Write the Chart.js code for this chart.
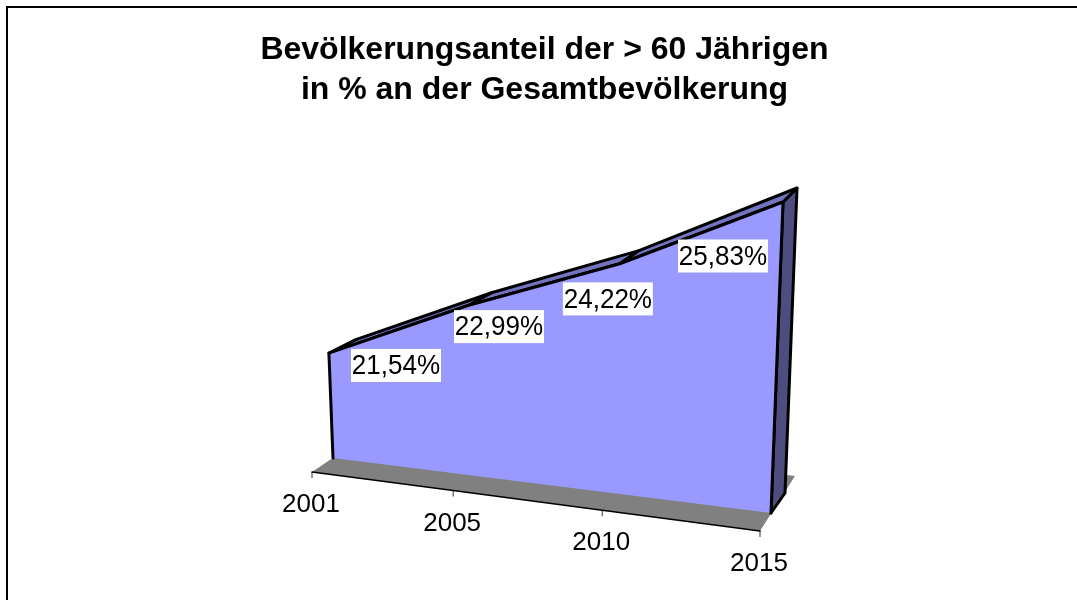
<!DOCTYPE html>
<html>
<head>
<meta charset="utf-8">
<script src="https://cdn.jsdelivr.net/npm/chart.js@4"></script>
<style>
	html, body { margin: 0; padding: 0; background: #fff; overflow: hidden; }
	#frame { position: absolute; left: 6px; top: 6px; width: 1200px; height: 800px; border: 2px solid #000; }
	canvas { position: absolute; left: 0; top: 0; }
</style>
</head>
<body>
<div id="frame"></div>
<canvas id="chart" width="1077" height="600"></canvas>
<script>
const years = ['2001', '2005', '2010', '2015'];
const shares = [21.54, 22.99, 24.22, 25.83];
const axisMin = 19;
const axisMax = 25.83;
const titleLines = ['Bevölkerungsanteil der > 60 Jährigen', 'in % an der Gesamtbevölkerung'];

// corners of each depth plane on the page, the picture is a perspective view
const planes = {
	front: { b0: [333, 458], b1: [771, 513], t0: [322, 176], t1: [783, 202] },
	back: { b0: [358, 440], b1: [785, 493], t0: [352, 170], t1: [797, 188] },
	floorFront: { b0: [312, 472], b1: [760, 531], t0: [312, 472], t1: [760, 531] },
	floorBack: { b0: [380, 426], b1: [795, 476], t0: [380, 426], t1: [795, 476] },
	label: { b0: [396, 477], b1: [723, 556], t0: [396, 177], t1: [723, 256] }
};
const perspective = 1.087;

function lerp(a, b, t) {
	return [a[0] + (b[0] - a[0]) * t, a[1] + (b[1] - a[1]) * t];
}

function project(chart, px, py, planeName) {
	const xs = chart.scales.x;
	const ys = chart.scales.y;
	const u = (px - xs.left) / xs.width;
	const w = (ys.bottom - py) / ys.height;
	const s = u / (u + (1 - u) * perspective);
	const plane = planes[planeName];
	return lerp(lerp(plane.b0, plane.b1, s), lerp(plane.t0, plane.t1, s), w);
}

const projection = {
	id: 'projection',
	afterDatasetsUpdate(chart) {
		chart.data.datasets.forEach(function(ds, i) {
			chart.getDatasetMeta(i).data.forEach(function(pt, k) {
				const p = project(chart, pt.x, pt.y, ds.data[k].z);
				pt.x = p[0];
				pt.y = p[1];
			});
		});
	},
	beforeDatasetsDraw(chart) {
		const ctx = chart.ctx;
		const xs = chart.scales.x;
		const ys = chart.scales.y;
		ctx.save();
		ctx.font = '26px "Liberation Sans"';
		ctx.textAlign = 'center';
		ctx.textBaseline = 'middle';
		xs.ticks.forEach(function(tick, i) {
			const p = project(chart, xs.getPixelForTick(i), ys.bottom, 'floorFront');
			ctx.strokeStyle = '#333';
			ctx.lineWidth = 1;
			ctx.beginPath();
			ctx.moveTo(p[0], p[1]);
			ctx.lineTo(p[0], p[1] + 6);
			ctx.stroke();
			ctx.fillStyle = '#000';
			ctx.fillText(tick.label, p[0] - 1, p[1] + 33);
		});
		ctx.restore();
	},
	afterDatasetsDraw(chart) {
		const ctx = chart.ctx;
		const xs = chart.scales.x;
		const ys = chart.scales.y;
		ctx.save();
		ctx.font = '28px "Liberation Sans"';
		ctx.textAlign = 'center';
		ctx.textBaseline = 'middle';
		shares.forEach(function(value, i) {
			const p = project(chart, xs.getPixelForValue(i), ys.getPixelForValue(value), 'label');
			const text = value.toFixed(2).replace('.', ',') + '%';
			ctx.fillStyle = '#fff';
			ctx.fillRect(p[0] - 45, p[1] - 16.5, 90, 33);
			ctx.fillStyle = '#000';
			// the labels in the picture are a bit narrower than the font
			ctx.save();
			ctx.translate(p[0], p[1] + 1);
			ctx.scale(0.93, 1);
			ctx.fillText(text, 0, 0);
			ctx.restore();
		});
		ctx.restore();
	}
};

function pt(i, y, z) {
	return { x: years[i], y: y, z: z };
}

const last = years.length - 1;
const datasets = [];

function face(data, fillColor, lineColor, lineWidth) {
	datasets.push({
		data: data,
		fill: fillColor ? 'shape' : false,
		backgroundColor: fillColor || 'transparent',
		borderColor: lineColor || 'transparent',
		borderWidth: lineWidth || 0,
		borderJoinStyle: 'round',
		borderCapStyle: 'round',
		pointRadius: 0,
		tension: 0,
		clip: false,
		order: -datasets.length
	});
}

// floor
face(
	years.map((y, i) => pt(i, axisMin, 'floorFront'))
		.concat(years.map((y, i) => pt(last - i, axisMin, 'floorBack'))),
	'#808080'
);
face(years.map((y, i) => pt(i, axisMin, 'floorFront')), null, '#000', 1.5);

// right side of the area
face([
	pt(last, axisMin, 'front'), pt(last, shares[last], 'front'), pt(last, shares[last], 'back'),
	pt(last, axisMin, 'back'), pt(last, axisMin, 'front')
], '#4d4d80', '#000', 3);

// top strips between the two edges
for (let i = 0; i < last; i++) {
	face([
		pt(i, shares[i], 'front'), pt(i + 1, shares[i + 1], 'front'), pt(i + 1, shares[i + 1], 'back'),
		pt(i, shares[i], 'back'), pt(i, shares[i], 'front')
	], '#7373bf', '#000', 3);
}

// front of the area, the outline leaves out the bottom edge
const frontEdge = shares.map((v, i) => pt(i, v, 'front'));
face([pt(0, axisMin, 'front')].concat(frontEdge, [pt(last, axisMin, 'front')]), '#9999ff');
face([pt(0, axisMin, 'front')].concat(frontEdge, [pt(last, axisMin, 'front')]), null, '#000', 3);

new Chart(document.getElementById('chart'), {
	type: 'line',
	data: { labels: years, datasets: datasets },
	options: {
		responsive: false,
		animation: false,
		events: [],
		layout: { padding: { left: 12, top: 30 } },
		scales: {
			x: { type: 'category', display: false },
			y: { type: 'linear', display: false, min: axisMin, max: axisMax }
		},
		plugins: {
			legend: { display: false },
			tooltip: { enabled: false },
			title: {
				display: true,
				text: titleLines,
				color: '#000',
				font: { family: '"Liberation Sans"', size: 32, weight: 'bold', lineHeight: 1.25 },
				padding: { top: 0, bottom: 10 }
			}
		}
	},
	plugins: [projection]
});
</script>
</body>
</html>
